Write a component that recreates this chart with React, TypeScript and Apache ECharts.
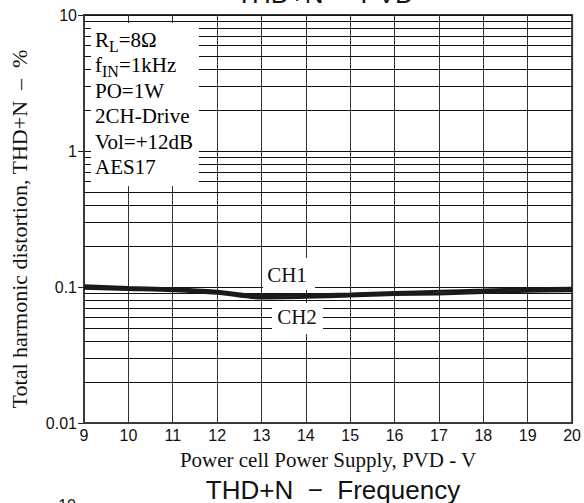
import React, { useEffect, useRef } from "react";
import * as echarts from "echarts";

const supplyVoltage = [9, 10, 11, 12, 13, 14, 15, 16, 17, 18, 19, 20];
const ch1Thd = [0.102, 0.099, 0.097, 0.093, 0.0865, 0.0875, 0.089, 0.091, 0.093, 0.095, 0.097, 0.098];
const ch2Thd = [0.098, 0.096, 0.094, 0.09, 0.083, 0.084, 0.086, 0.088, 0.089, 0.091, 0.093, 0.094];
const yTickLabels = ["0.01", "0.1", "1", "10"];
const decades = [0.01, 0.1, 1];
const minorMultipliers = [2, 3, 4, 5, 6, 7, 8, 9];

const titleTop = "THD+N \u2212  PVD";
const titleBottom = "THD+N  \u2212  Frequency";
const xName = "Power cell Power Supply, PVD - V";
const yName = "Total harmonic distortion, THD+N  \u2013  %";

const conditionLines = [
  "{a|R}{b|L}{a|=8\u03a9}",
  "{a|f}{b|IN}{a|=1kHz}",
  "{a|PO=1W}",
  "{a|2CH-Drive}",
  "{a|Vol=+12dB}",
  "{a|AES17}",
];

const SERIF = "'Liberation Serif', 'Times New Roman', serif";
const SANS = "'Liberation Sans', Arial, Helvetica, sans-serif";

export default function App() {
  const ref = useRef<HTMLDivElement>(null);

  useEffect(() => {
    if (!ref.current) return;
    const chart = echarts.init(ref.current, null, { renderer: "svg" });

    const minorLines: { yAxis: number }[] = [];
    decades.forEach((d) => minorMultipliers.forEach((m) => minorLines.push({ yAxis: Number((d * m).toPrecision(3)) })));

    const serifText = (text: string, x: number, y: number, size = 21, extra: any = {}) => ({
      type: "text",
      z: 8,
      silent: true,
      style: {
        text,
        x,
        y,
        fill: "#111",
        font: `${size}px ${SERIF}`,
        textVerticalAlign: "middle",
        ...extra,
      },
    });

    const option: any = {
      animation: false,
      backgroundColor: "#fff",
      grid: {
        left: 83,
        top: 15,
        width: 491,
        height: 408,
        show: true,
        borderColor: "#3a3a3a",
        borderWidth: 2,
        backgroundColor: "transparent",
      },
      xAxis: {
        type: "value",
        min: 9,
        max: 20,
        interval: 1,
        name: xName,
        nameLocation: "middle",
        nameGap: 26,
        nameTextStyle: { fontFamily: SERIF, fontSize: 21, color: "#111" },
        axisLine: { show: true, lineStyle: { color: "#3a3a3a", width: 2 } },
        axisTick: { show: false },
        axisLabel: { fontFamily: SANS, fontSize: 16, color: "#111", margin: 4 },
        splitLine: { show: true, lineStyle: { color: "#333", width: 1 } },
      },
      yAxis: {
        type: "log",
        logBase: 10,
        min: 0.01,
        max: 10,
        name: yName,
        nameLocation: "middle",
        nameGap: 54,
        nameTextStyle: { fontFamily: SERIF, fontSize: 22, color: "#111", padding: [0, 20, 0, 0] },
        axisLine: { show: true, lineStyle: { color: "#3a3a3a", width: 2 } },
        axisTick: { show: true, length: 6, lineStyle: { color: "#222", width: 1 } },
        axisLabel: {
          fontFamily: SANS,
          fontSize: 16,
          color: "#111",
          margin: 7,
          formatter: (v: number) => yTickLabels[Math.round(Math.log10(v)) + 2] ?? "",
        },
        splitLine: { show: true, lineStyle: { color: "#111", width: 1 } },
      },
      series: [
        {
          name: "grid",
          type: "line",
          z: 1,
          data: [[9, 0.1]],
          showSymbol: false,
          symbol: "none",
          lineStyle: { opacity: 0 },
          silent: true,
          markLine: {
            z: 1,
            silent: true,
            symbol: ["none", "none"],
            label: { show: false },
            lineStyle: { color: "#111", width: 1, type: "solid" },
            data: minorLines,
          },
        },
        {
          name: "CH1",
          type: "line",
          z: 10,
          data: supplyVoltage.map((x, i) => [x, ch1Thd[i]]),
          showSymbol: false,
          symbol: "none",
          smooth: 0.3,
          lineStyle: { color: "#1a1a1a", width: 3 },
        },
        {
          name: "CH2",
          type: "line",
          z: 10,
          data: supplyVoltage.map((x, i) => [x, ch2Thd[i]]),
          showSymbol: false,
          symbol: "none",
          smooth: 0.3,
          lineStyle: { color: "#1a1a1a", width: 3 },
        },
      ],
      graphic: [
        {
          type: "text",
          z: 8,
          silent: true,
          style: {
            text: titleTop,
            x: 325,
            y: 7,
            fill: "#111",
            font: `26px ${SANS}`,
            textAlign: "center",
            textVerticalAlign: "bottom",
          },
        },
        {
          type: "text",
          z: 8,
          silent: true,
          style: {
            text: titleBottom,
            x: 333,
            y: 503,
            fill: "#111",
            font: `26px ${SANS}`,
            textAlign: "center",
            textVerticalAlign: "bottom",
          },
        },
        {
          type: "text",
          z: 8,
          silent: true,
          style: {
            text: "10",
            x: 76,
            y: 497,
            fill: "#111",
            font: `16px ${SANS}`,
            textAlign: "right",
            textVerticalAlign: "top",
          },
        },
        // conditions box
        { type: "rect", z: 6, silent: true, shape: { x: 91, y: 23, width: 108, height: 163 }, style: { fill: "#fff" } },
        ...conditionLines.map((line, i) => ({
          type: "text",
          z: 8,
          silent: true,
          style: {
            text: line,
            x: 95,
            y: 29 + i * 25.5,
            textVerticalAlign: "top",
            rich: {
              a: { fontFamily: SERIF, fontSize: 21, lineHeight: 24, color: "#111", verticalAlign: "top" },
              b: { fontFamily: SERIF, fontSize: 16, lineHeight: 17, color: "#111", verticalAlign: "top", padding: [9, 0, 0, 0] },
            },
          },
        })),
        // channel labels
        { type: "rect", z: 6, silent: true, shape: { x: 263, y: 258, width: 52, height: 32 }, style: { fill: "#fff" } },
        serifText("CH1", 287, 275, 21, { textAlign: "center" }),
        { type: "rect", z: 6, silent: true, shape: { x: 272, y: 303, width: 51, height: 31 }, style: { fill: "#fff" } },
        serifText("CH2", 297, 317, 21, { textAlign: "center" }),
      ],
    };

    chart.setOption(option);
    return () => chart.dispose();
  }, []);

  return <div ref={ref} style={{ width: 584, height: 503, position: "absolute", left: 0, top: 0 }} />;
}
